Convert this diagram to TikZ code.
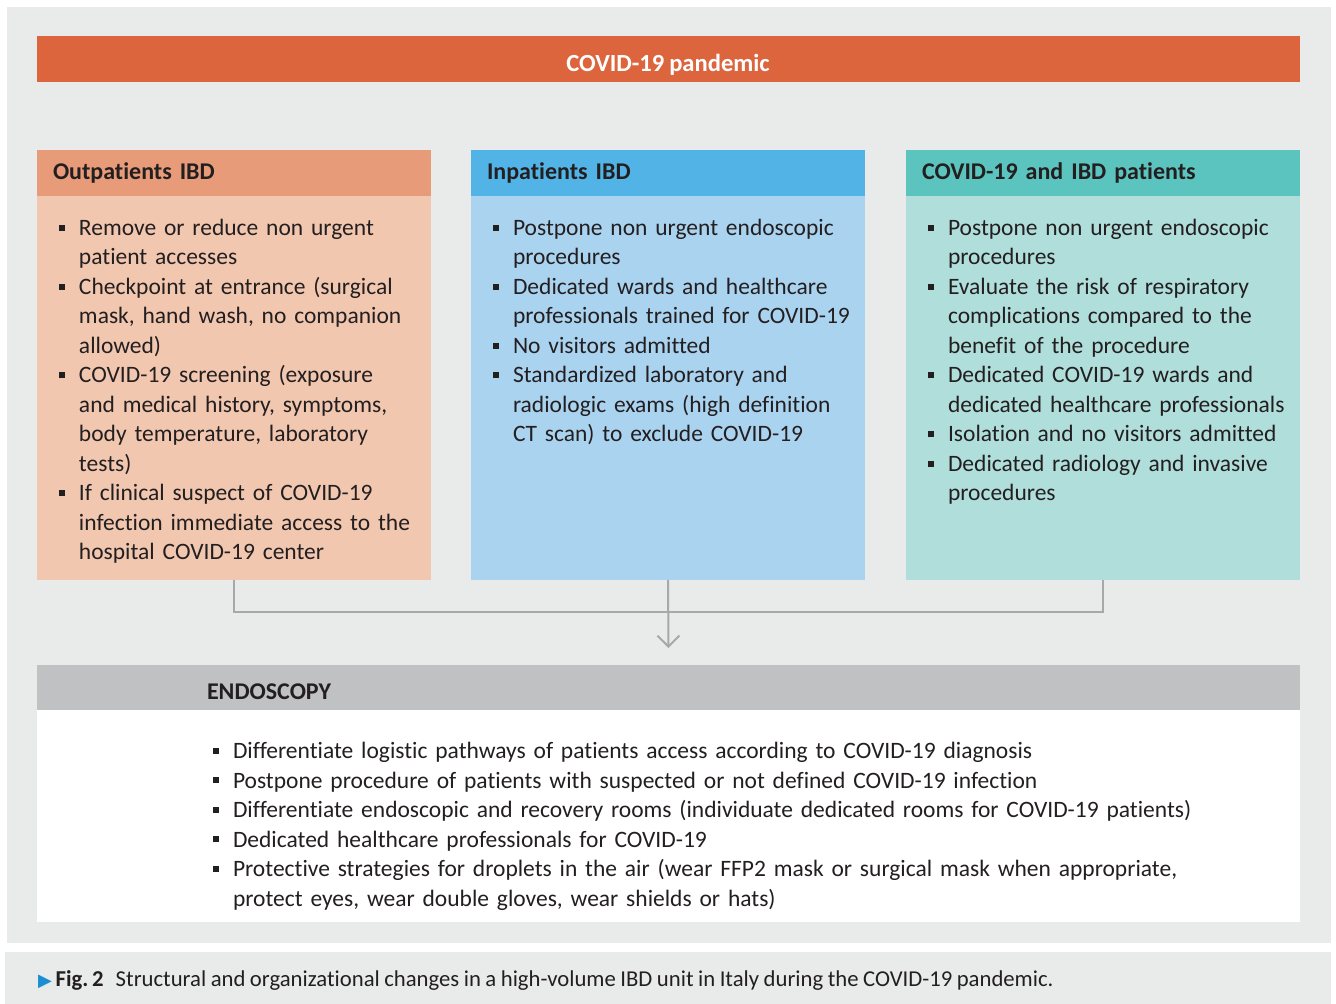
\documentclass[tikz,border=0pt]{standalone}
\usepackage{fontspec}
\setmainfont[Ligatures={NoCommon,NoRare},WordSpace=0.88]{Carlito}
\newfontfamily\symfont{DejaVu Sans}
\usepackage{enumitem}
\usepackage{tikz}
\usetikzlibrary{arrows.meta,positioning,calc}

\definecolor{panelgray}{HTML}{E9EBEA}
\definecolor{covidorange}{HTML}{DD653D}
\definecolor{outhead}{HTML}{E89B79}
\definecolor{outbody}{HTML}{F2C7B0}
\definecolor{inhead}{HTML}{52B3E6}
\definecolor{inbody}{HTML}{AAD3F0}
\definecolor{covhead}{HTML}{5BC4BE}
\definecolor{covbody}{HTML}{AFDEDB}
\definecolor{endohead}{HTML}{C0C1C3}
\definecolor{linkgray}{HTML}{A7A8AA}
\definecolor{inkdark}{HTML}{231F20}
\definecolor{capblue}{HTML}{1A8ED1}

\setlist[itemize]{label=\raisebox{0.2em}{\rule{3pt}{3pt}},leftmargin=13pt,labelsep=7pt,
  itemsep=0pt,topsep=0pt,parsep=0pt,partopsep=0pt}

\begin{document}
\begin{tikzpicture}[x=0.5pt,y=-0.5pt,
    every node/.style={inner sep=0pt,outer sep=0pt,text=inkdark},
    txt/.style={font=\fontsize{11.75}{14.75}\selectfont},
    headbox/.style={anchor=north west,minimum width=197pt,minimum height=23pt,
      inner xsep=8pt,text width=181pt,align=left,font=\fontsize{12}{14.7}\selectfont\bfseries},
    bodybox/.style={anchor=north west,minimum width=197pt,minimum height=192pt},
    listbox/.style={anchor=north west,text width=190pt,txt},
    conn/.style={draw=linkgray,line width=1pt}]
    % Canvas
    \useasboundingbox (0,0) rectangle (1336,1004);
    \fill[white] (0,0) rectangle (1336,1004);
    \fill[panelgray] (7,7) rectangle (1331,943);
    \fill[panelgray] (5,952) rectangle (1331,1004);

    % Top banner
    \node[anchor=north west,fill=covidorange,minimum width=631.5pt,minimum height=23pt] (pandemic) at (37,36) {};
    \node[font=\fontsize{12.3}{14.7}\selectfont\bfseries,text=white] (pandemictext) at (668,65) {COVID-19 pandemic};

    % Outpatients
    \node[headbox,fill=outhead] (outtitle) at (37,150) {Outpatients IBD};
    \node[bodybox,fill=outbody] (outpat) at (37,196) {};
    \node[listbox] (outlist) at (53,206) {%
      \begin{itemize}
        \item Remove or reduce non urgent\\patient accesses
        \item Checkpoint at entrance (surgical\\mask, hand wash, no companion\\allowed)
        \item COVID-19 screening (exposure\\and medical history, symptoms,\\body temperature, laboratory\\tests)
        \item If clinical suspect of COVID-19\\infection immediate access to the\\hospital COVID-19 center
      \end{itemize}};

    % Inpatients
    \node[headbox,fill=inhead] (intitle) at (471,150) {Inpatients IBD};
    \node[bodybox,fill=inbody] (inpat) at (471,196) {};
    \node[listbox] (inlist) at (487,206) {%
      \begin{itemize}
        \item Postpone non urgent endoscopic\\procedures
        \item Dedicated wards and healthcare\\professionals trained for COVID-19
        \item No visitors admitted
        \item Standardized laboratory and\\radiologic exams (high definition\\CT scan) to exclude COVID-19
      \end{itemize}};

    % COVID-19 and IBD
    \node[headbox,fill=covhead] (covtitle) at (906,150) {COVID-19 and IBD patients};
    \node[bodybox,fill=covbody] (covpat) at (906,196) {};
    \node[listbox] (covlist) at (922,206) {%
      \begin{itemize}
        \item Postpone non urgent endoscopic\\procedures
        \item Evaluate the risk of respiratory\\complications compared to the\\benefit of the procedure
        \item Dedicated COVID-19 wards and\\dedicated healthcare professionals
        \item Isolation and no visitors admitted
        \item Dedicated radiology and invasive\\procedures
      \end{itemize}};

    % Endoscopy
    \node[anchor=north west,fill=endohead,minimum width=631.5pt,minimum height=22.5pt] (endotitle) at (37,665) {};
    \node[anchor=west,font=\fontsize{12}{14.7}\selectfont\bfseries] (endoname) at (207,692) {ENDOSCOPY};
    \node[anchor=north west,fill=white,minimum width=631.5pt,minimum height=106pt] (endobody) at (37,710) {};
    \node[listbox,text width=560pt] (endolist) at (207,729) {%
      \begin{itemize}
        \item Differentiate logistic pathways of patients access according to COVID-19 diagnosis
        \item Postpone procedure of patients with suspected or not defined COVID-19 infection
        \item Differentiate endoscopic and recovery rooms (individuate dedicated rooms for COVID-19 patients)
        \item Dedicated healthcare professionals for COVID-19
        \item Protective strategies for droplets in the air (wear FFP2 mask or surgical mask when appropriate,\\protect eyes, wear double gloves, wear shields or hats)
      \end{itemize}};

    % Connectors
    \coordinate (bus) at (668,612);
    \draw[conn] (outpat.south) |- (bus) -| (covpat.south);
    \draw[conn,-{Straight Barb[length=5.5pt,width=11pt,line width=1pt]}]
      (inpat.south) -- ([yshift=8.5pt]endotitle.north);

    % Caption
    \node[anchor=west,font=\fontsize{11.35}{13}\selectfont] (caption) at (38,980)
      {{\symfont\color{capblue}\fontsize{9}{11}\selectfont ▶}\,\textbf{Fig.\,2}\hspace{6pt}Structural and organizational changes in a high-volume IBD unit in Italy during the COVID-19 pandemic.};
\end{tikzpicture}
\end{document}
